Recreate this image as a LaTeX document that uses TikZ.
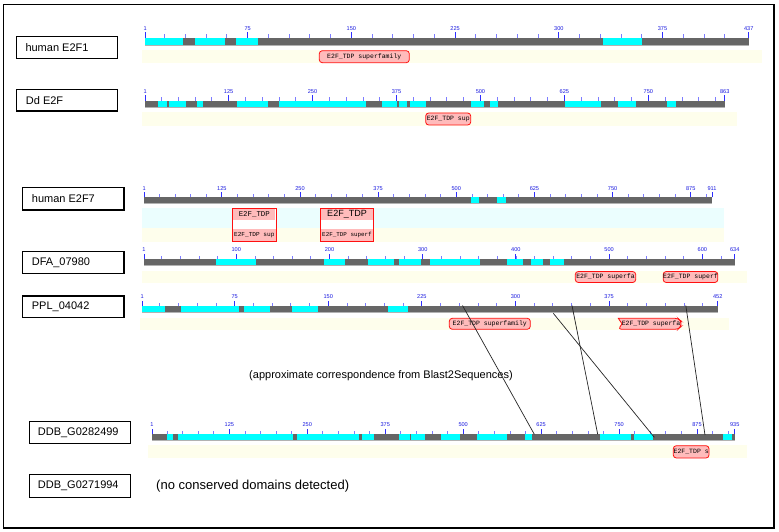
\documentclass[tikz,border=0pt]{standalone}
\usepackage{fontspec}
\setmainfont{Liberation Sans}
\newfontfamily\monof{Liberation Mono}
\definecolor{bargray}{HTML}{666666}
\definecolor{barcyan}{HTML}{00FFFF}
\definecolor{bandyel}{HTML}{FEFEEC}
\definecolor{bandcyan}{HTML}{EBFEFE}
\definecolor{dompink}{HTML}{FFBBBB}
\definecolor{domred}{HTML}{FF1010}
\definecolor{tickmin}{HTML}{7C7CFF}
\definecolor{tickmaj}{HTML}{2E2EFF}
\definecolor{ticktxt}{HTML}{1A1AE0}
\newcommand\myrowticks[6]{% id, x0, scale, ytop, minor list, major list
  \foreach \u in {#5}{%
    \pgfmathsetmacro\tx{#2+(\u-1)*#3}
    \draw[minortick] (\tx,#4) -- ++(0,-3.5);
  }
  \foreach \u in {#6}{%
    \pgfmathsetmacro\tx{#2+(\u-1)*#3}
    \draw[majortick] (\tx,#4) -- ++(0,-5.5);
    \node[ticklab] (#1t\u) at (\tx,#4-9.2) {\u};
  }
}
\newcommand\mylasttick[4]{% id, x, ytop, label
  \draw[majortick] (#2,#3) -- ++(0,-5.5);
  \node[ticklab] (#1tlast) at (#2,#3-9.2) {#4};
}
\newcommand\myseqbar[5]{% x0, x1, ytop, ybot, cyan segments
  \fill[bargray] (#1,#3) rectangle (#2,#4);
  \foreach \a/\b in {#5} \fill[barcyan] (\a,#3) rectangle (\b,#4);
  \draw[barshade] (#1,#4) -- (#2,#4);
}
\newcommand\mydom[6]{% id, x1, x2, y1, y2, text
  \node[dombox, minimum width={(#3-#2)*1pt}, minimum height={(#5-#4)*1pt}]
    (#1) at ({(#2+#3)/2},{(#4+#5)/2}) {#6};
}
\newcommand\mylbl[7]{% id, x1, x2, y1, y2, text x, text
  \node[lblbox, minimum width={(#3-#2)*1pt}, minimum height={(#5-#4)*1pt}]
    (#1) at ({(#2+#3)/2},{(#4+#5)/2}) {};
  \node[lbltext, anchor=west] (#1txt) at (#6,{(#4+#5)/2}) {#7};
}
\begin{document}
\begin{tikzpicture}[x=1pt,y=-1pt,
  minortick/.style={draw=tickmin, line width=0.8pt},
  majortick/.style={draw=tickmaj, line width=0.9pt},
  ticklab/.style={inner sep=0pt, text=ticktxt, font=\fontsize{5.6}{6}\selectfont},
  barshade/.style={draw=black!30, line width=0.6pt},
  dombox/.style={draw=domred, fill=dompink, line width=0.8pt, rounded corners=3pt,
    inner sep=0pt, font=\monof\fontsize{6.5}{7}\selectfont},
  domtxt/.style={inner sep=0pt, font=\monof\fontsize{6.5}{7}\selectfont},
  lblbox/.style={draw=black, line width=1.1pt, fill=white, inner sep=0pt},
  lbltext/.style={inner sep=0pt, font=\fontsize{11}{13}\selectfont},
  corr/.style={draw=black!85, line width=0.7pt},
  note/.style={inner sep=0pt}]
\useasboundingbox (0,0) rectangle (779,532);
\fill[white] (0,0) rectangle (779,532);
\draw[line width=1.2pt] (3.5,4.5) rectangle (774,528);

% ---------- row 1: human E2F1
\mylbl{b1}{16.3}{117.3}{36.3}{58.3}{25.3}{human E2F1}
\fill[bandyel] (142,50) rectangle (761.7,63.3);
\myseqbar{145.3}{748.7}{38}{45}{145.3/183,195/225,236/257.7,603/641.7}
\myrowticks{r1}{145.3}{1.383}{38}{15,30,...,420}{1,75,150,225,300,375}
\mylasttick{r1}{748.7}{38}{437}
\mydom{d1}{319.3}{409.3}{50.7}{62.7}{E2F\_TDP superfamily}

% ---------- row 2: Dd E2F
\mylbl{b2}{16.3}{117.3}{89.3}{111}{25.7}{Dd E2F}
\fill[bandyel] (142,112.3) rectangle (736.7,125.7);
\myseqbar{145.3}{724.7}{101}{107.7}{157.7/167.3,169.3/186,197/203.3,237/268,279/366,381.7/397,399/407.3,410/426,471/483.7,490/498,565/601,617.7/636,667/676}
\myrowticks{r2}{145.3}{0.6716}{101}{25,50,...,850}{1,125,250,375,500,625,750}
\mylasttick{r2}{724.7}{101}{863}
\mydom{d2}{425.7}{470.7}{113}{125}{E2F\_TDP sup}

% ---------- row 3: human E2F7
\mylbl{b3}{22.3}{124}{187.3}{210}{31.7}{human E2F7}
\fill[bandcyan] (142,208.3) rectangle (724,228.3);
\fill[bandyel] (142,228.3) rectangle (724,241.7);
\myseqbar{144.3}{712}{197.3}{203.3}{471.3/479,497/506}
\myrowticks{r3}{144.3}{0.6252}{197.3}{25,50,...,900}{1,125,250,375,500,625,750,875}
\mylasttick{r3}{712}{197.3}{911}
% domain A
\fill[white] (232.3,208.3) rectangle (276.3,241.7);
\fill[dompink] (233.3,208.3) rectangle (275.3,220);
\fill[dompink] (232.3,228.6) rectangle (276.3,241.7);
\draw[domred, line width=0.8pt] (232.3,208.3) rectangle (276.3,241.7);
\node[inner sep=0pt, font=\monof\fontsize{7.4}{8}\selectfont] (d3a) at (254.3,214.3) {E2F\_TDP};
\node[domtxt, font=\monof\fontsize{6.1}{7}\selectfont] (d3b) at (254.3,235.3) {E2F\_TDP sup};
% domain B
\fill[white] (320.3,208.3) rectangle (373.7,241.7);
\fill[dompink] (321.3,208.3) rectangle (372.7,220);
\fill[dompink] (320.3,228.6) rectangle (373.7,241.7);
\draw[domred, line width=0.8pt] (320.3,208.3) rectangle (373.7,241.7);
\node[inner sep=0pt, font=\fontsize{9}{10}\selectfont] (d3c) at (347,214.3) {E2F\_TDP};
\node[domtxt, font=\monof\fontsize{5.9}{7}\selectfont] (d3d) at (347,235.3) {E2F\_TDP superf};

% ---------- row 4: DFA_07980
\mylbl{b4}{22.3}{124}{251.3}{273.7}{31.7}{DFA\_07980}
\fill[bandyel] (142,270.7) rectangle (746.7,283.3);
\myseqbar{144}{734.7}{259}{265.7}{216/256,324/345,368/394,399/420.5,430/480,507/522.7,531/543,550/564}
\myrowticks{r4}{144}{0.9321}{259}{20,40,...,620}{1,100,200,300,400,500,600}
\mylasttick{r4}{734.7}{259}{634}
\mydom{d4a}{575.3}{635.7}{271.5}{282.5}{E2F\_TDP superfa}
\mydom{d4b}{663.3}{717.7}{271.5}{282.5}{E2F\_TDP superf}

% ---------- row 5: PPL_04042
\mylbl{b5}{22.3}{124}{296}{317.3}{31.7}{PPL\_04042}
\fill[bandyel] (140,317.7) rectangle (729.3,330);
\myseqbar{142.3}{717.7}{306}{312.3}{142.3/165,181.3/239,244/270,291.7/318.3,388/408}
\myrowticks{r5}{142.3}{1.248}{306}{15,30,...,450}{1,75,150,225,300,375}
\mylasttick{r5}{717.7}{306}{452}
\mydom{d5a}{449.3}{530.3}{318.3}{329.3}{E2F\_TDP superfamily}
\draw[domred, fill=dompink, line width=0.8pt, rounded corners=3pt]
  (620.5,318.3) -- (678,318.3) -- (681,321) -- (681,326.6) -- (678,329.3) -- (618.3,329.3)
  [sharp corners] -- (622,323.8) -- (618.3,318.3) -- cycle;
\node[domtxt] (d5b) at (651,323.8) {E2F\_TDP superfa};

% ---------- row 6: DDB_G0282499
\mylbl{b6}{29.3}{130.3}{421.7}{443.3}{37.7}{DDB\_G0282499}
\fill[bandyel] (148.3,445) rectangle (746.7,458.3);
\myseqbar{152}{734.7}{434}{440.7}{167.3/173.3,178/293,297/359,362/373.7,399/410,411/425,441/460,477/507.3,525/532,600/631,634/653.3,723/731.7}
\myrowticks{r6}{152}{0.6236}{434}{25,50,...,925}{1,125,250,375,500,625,750,875}
\mylasttick{r6}{734.7}{434}{935}
\mydom{d6}{673.3}{709}{445.7}{458}{E2F\_TDP s}

% ---------- row 7: DDB_G0271994
\mylbl{b7}{29.3}{130.3}{474.3}{497.3}{37.7}{DDB\_G0271994}
\node[note, anchor=west, font=\fontsize{13}{15}\selectfont] (nocd) at (156,486) {(no conserved domains detected)};

% ---------- note and correspondence lines
\node[note, font=\fontsize{11}{13}\selectfont] (blast) at (381,375.7) {(approximate correspondence from Blast2Sequences)};
\coordinate (p1) at (462.5,305.5);
\coordinate (q1) at (534.3,434.3);
\coordinate (p2) at (553.3,313.3);
\coordinate (q2) at (654.3,437.3);
\coordinate (p3) at (572,305.5);
\coordinate (q3) at (597.7,434.3);
\coordinate (p4) at (685.8,305.5);
\coordinate (q4) at (705,435);
\draw[corr] (p1) -- (q1);
\draw[corr] (p2) -- (q2);
\draw[corr] (p3) -- (q3);
\draw[corr] (p4) -- (q4);
\end{tikzpicture}
\end{document}
